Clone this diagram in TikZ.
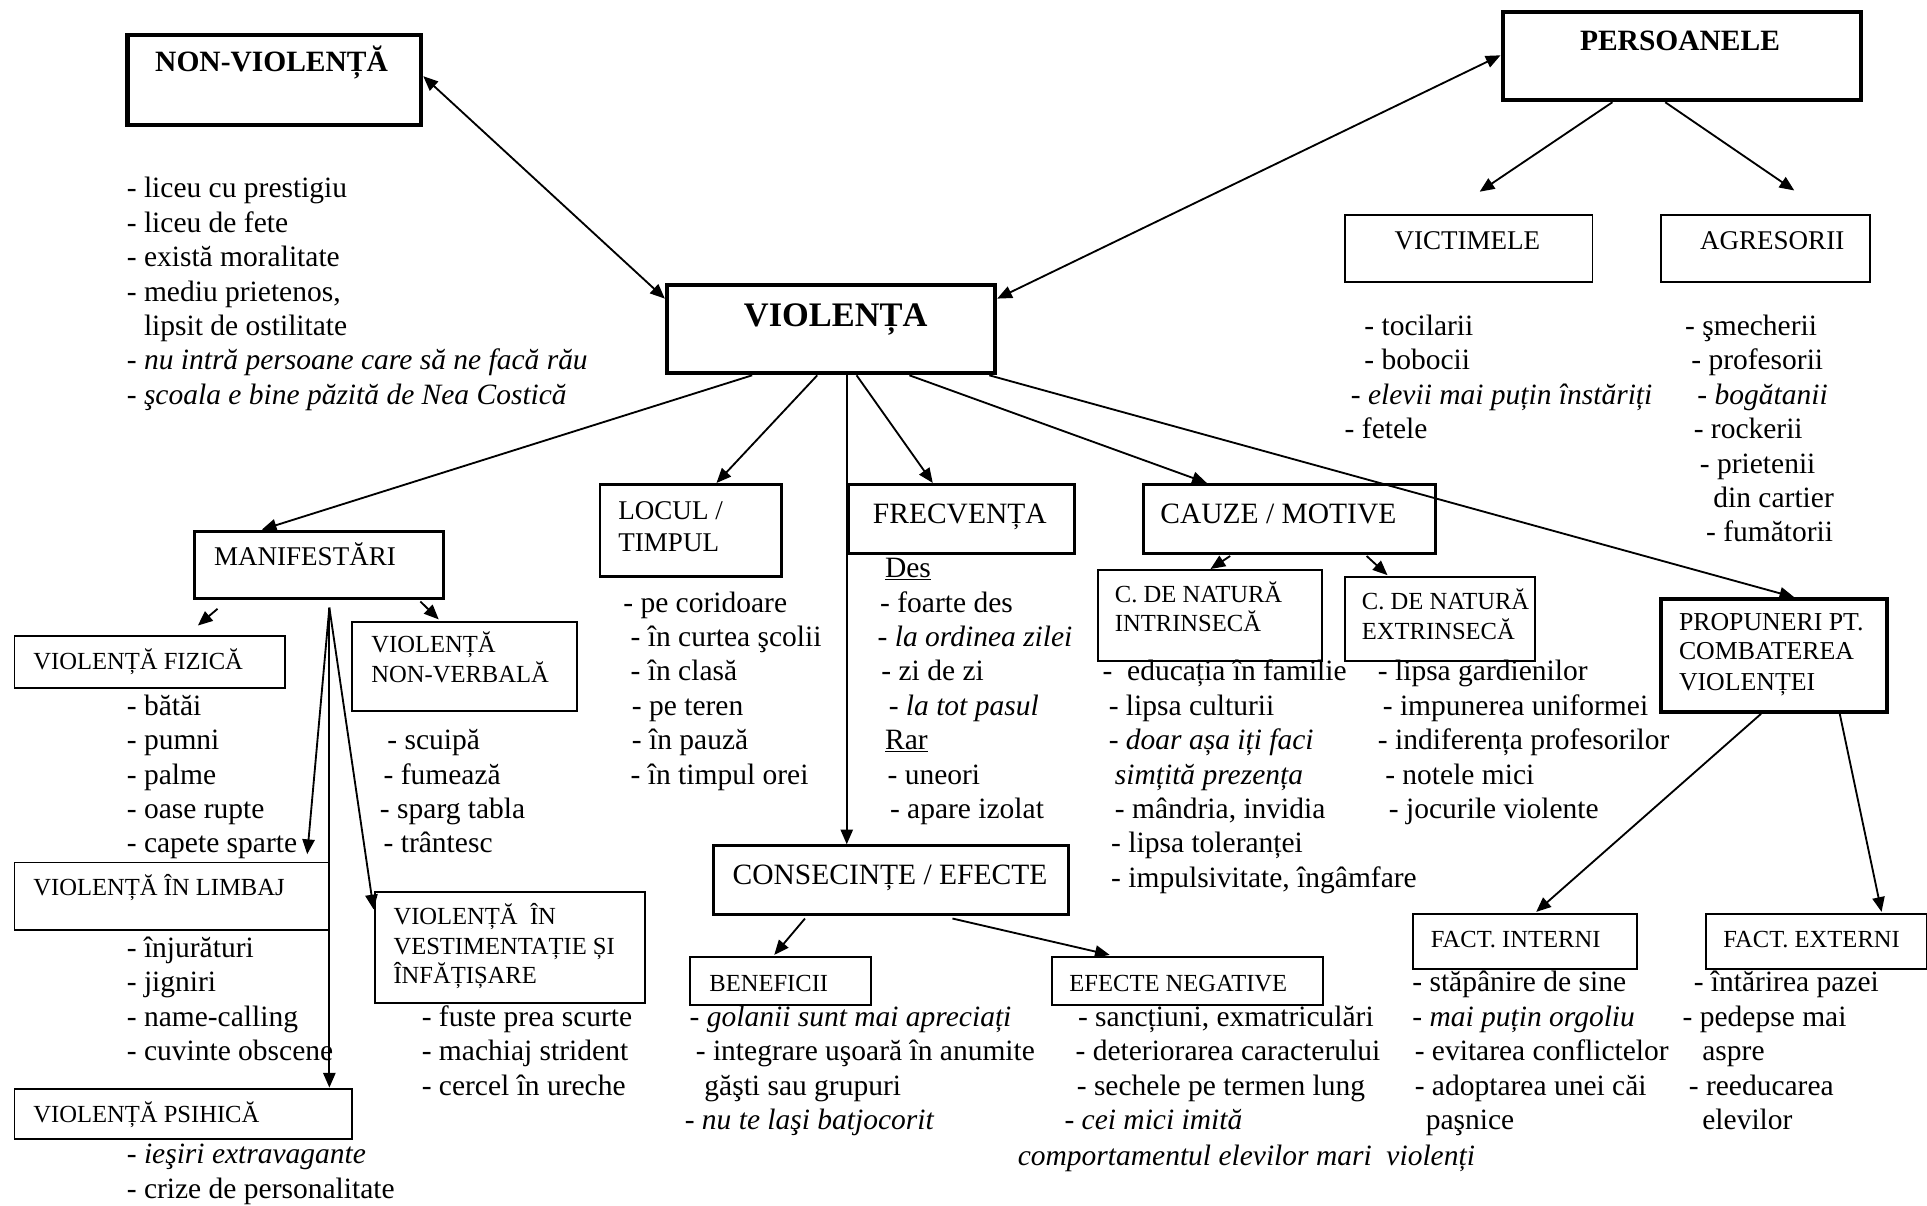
\documentclass[tikz,border=0pt]{standalone}
\usepackage{fontspec}
\setmainfont{Liberation Serif}
\usetikzlibrary{arrows.meta}
\begin{document}
\begin{tikzpicture}[x=1pt,y=-1pt,
  bx/.style={draw, anchor=north west, inner sep=0pt, line width=1.6pt},
  bxm/.style={bx, line width=2.4pt},
  bxk/.style={bx, line width=3.4pt},
  lbl/.style={anchor=base west, inner sep=0pt},
  clbl/.style={anchor=base, inner sep=0pt},
  f20/.style={font=\fontsize{20}{24}\selectfont},
  f21/.style={font=\fontsize{21}{25}\selectfont},
  f22/.style={font=\fontsize{22}{26}\selectfont},
  f24/.style={font=\fontsize{24}{28}\selectfont},
  fb24/.style={font=\fontsize{24}{28}\selectfont\bfseries},
  fb28/.style={font=\fontsize{28}{32}\selectfont\bfseries},
  item/.style={anchor=base west, inner sep=0pt, font=\fontsize{24}{28}\selectfont},
  arr/.style={line width=1.5pt, -{Triangle[length=12pt,width=10pt]}},
  darr/.style={line width=1.5pt, {Triangle[length=12pt,width=10pt]}-{Triangle[length=12pt,width=10pt]}}
]
\fill[white] (0,0) rectangle (1568,981);
\useasboundingbox (0,0) rectangle (1568,981);

% ---------- boxes ----------
\node[bxk, minimum width=239pt, minimum height=73pt] (nonv) at (102,27) {};
\node[bxk, minimum width=267pt, minimum height=72pt] (vio) at (541,230) {};
\node[bxk, line width=3.2pt, minimum width=292pt, minimum height=72pt] (pers) at (1221,8) {};
\node[bx, minimum width=201pt, minimum height=55pt] (vict) at (1094,174) {};
\node[bx, minimum width=170pt, minimum height=55pt] (agr) at (1351,174) {};
\node[bxm, minimum width=203pt, minimum height=55pt] (man) at (157,431) {};
\node[bxm, minimum width=148pt, minimum height=75pt] (loc) at (487,393) {};
\node[bxm, minimum width=184pt, minimum height=56pt] (frec) at (689,393) {};
\node[bxm, minimum width=238pt, minimum height=56pt] (cauze) at (929,393) {};
\node[bx, minimum width=182pt, minimum height=74pt] (intr) at (893,463) {};
\node[bx, minimum width=154pt, minimum height=68pt] (extr) at (1094,469) {};
\node[bxm, line width=2.8pt, minimum width=184pt, minimum height=92pt] (prop) at (1350,486) {};
\node[bx, minimum width=220pt, minimum height=42pt] (fiz) at (11,517) {};
\node[bx, minimum width=183pt, minimum height=73pt] (nverb) at (286,505) {};
\node[bx, minimum width=256pt, minimum height=55pt] (limb) at (11,701) {};
\node[bx, minimum width=220pt, minimum height=90pt] (vest) at (304,725) {};
\node[bx, minimum width=275pt, minimum height=41pt] (psih) at (11,885) {};
\node[bxm, minimum width=289pt, minimum height=56pt] (cons) at (579,687) {};
\node[bx, minimum width=147pt, minimum height=39pt] (ben) at (561,778) {};
\node[bx, minimum width=221pt, minimum height=39pt] (efneg) at (855,778) {};
\node[bx, minimum width=182pt, minimum height=45pt] (fint) at (1149,743) {};
\node[bx, minimum width=180pt, minimum height=45pt] (fext) at (1387,743) {};

% ---------- box labels ----------
\node[clbl, fb24] (nonvT) at (221,58) {NON-VIOLENȚĂ};
\node[clbl, fb28] (vioT) at (680,266) {VIOLENȚA};
\node[clbl, fb24] (persT) at (1367,41) {PERSOANELE};
\node[clbl, f22] (victT) at (1194,203) {VICTIMELE};
\node[clbl, f22] (agrT) at (1442,203) {AGRESORII};
\node[lbl, f22] (manT) at (174,460) {MANIFESTĂRI};
\node[lbl, f22] (locT1) at (503,423) {LOCUL /};
\node[lbl, f22] (locT2) at (503,449) {TIMPUL};
\node[clbl, f24] (frecT) at (781,426) {FRECVENȚA};
\node[lbl, f24] (cauzeT) at (944,426) {CAUZE / MOTIVE};
\node[lbl, f20] (intrT1) at (907,490) {C. DE NATURĂ};
\node[lbl, f20] (intrT2) at (907,514) {INTRINSECĂ};
\node[lbl, f20] (extrT1) at (1108,496) {C. DE NATURĂ};
\node[lbl, f20] (extrT2) at (1108,520) {EXTRINSECĂ};
\node[lbl, f21] (propT1) at (1366,513) {PROPUNERI PT.};
\node[lbl, f21] (propT2) at (1366,537) {COMBATEREA};
\node[lbl, f21] (propT3) at (1366,562) {VIOLENȚEI};
\node[lbl, f20] (fizT) at (27,545) {VIOLENȚĂ FIZICĂ};
\node[lbl, f20] (nverbT1) at (302,531) {VIOLENȚĂ};
\node[lbl, f20] (nverbT2) at (302,555) {NON-VERBALĂ};
\node[lbl, f20] (limbT) at (27,729) {VIOLENȚĂ ÎN LIMBAJ};
\node[lbl, f20] (vestT1) at (320,752) {VIOLENȚĂ~~ÎN};
\node[lbl, f20] (vestT2) at (320,777) {VESTIMENTAȚIE ȘI};
\node[lbl, f20] (vestT3) at (320,800) {ÎNFĂȚIȘARE};
\node[lbl, f20] (psihT) at (27,913) {VIOLENȚĂ PSIHICĂ};
\node[lbl, f24] (consT) at (596,720) {CONSECINȚE / EFECTE};
\node[lbl, f20] (benT) at (577,807) {BENEFICII};
\node[lbl, f20] (efnegT) at (870,807) {EFECTE NEGATIVE};
\node[lbl, f20] (fintT) at (1164,771) {FACT. INTERNI};
\node[lbl, f20] (fextT) at (1402,771) {FACT. EXTERNI};

% ---------- lists ----------
\foreach \x/\y/\txt [count=\i] in {
  103/154/{- liceu cu prestigiu},
  103/182/{- liceu de fete},
  103/210/{- există moralitate},
  103/238/{- mediu prietenos,},
  117/266/{lipsit de ostilitate},
  103/294/{- \textit{nu intră persoane care să ne facă rău}},
  103/322/{- \textit{şcoala e bine păzită de Nea Costică}}}
  {\node[item] (nvl\i) at (\x,\y+7) {\txt};}

\foreach \x/\y/\txt [count=\i] in {
  1110/266/{- tocilarii},
  1110/294/{- bobocii},
  1099/322/{- \textit{elevii mai puțin înstăriți}},
  1094/350/{- fetele}}
  {\node[item] (vil\i) at (\x,\y+7) {\txt};}

\foreach \x/\y/\txt [count=\i] in {
  1371/266/{- şmecherii},
  1376/294/{- profesorii},
  1381/322/{- \textit{bogătanii}},
  1378/350/{- rockerii},
  1383/378/{- prietenii},
  1394/406/{din cartier},
  1388/434/{- fumătorii}}
  {\node[item] (agl\i) at (\x,\y+7) {\txt};}

\foreach \x/\y/\txt [count=\i] in {
  507/491/{- pe coridoare},
  513/519/{- în curtea şcolii},
  513/547/{- în clasă},
  514/575/{- pe teren},
  514/603/{- în pauză},
  513/631/{- în timpul orei}}
  {\node[item] (lol\i) at (\x,\y+7) {\txt};}

\foreach \x/\y/\txt [count=\i] in {
  720/463/{\underline{Des}},
  716/491/{- foarte des},
  714/519/{- \textit{la ordinea zilei}},
  717/547/{- zi de zi},
  723/575/{- \textit{la tot pasul}},
  720/603/{\underline{Rar}},
  722/631/{- uneori},
  724/659/{- apare izolat}}
  {\node[item] (frl\i) at (\x,\y+7) {\txt};}

\foreach \x/\y/\txt [count=\i] in {
  897/547/{-~~educația în familie},
  902/575/{- lipsa culturii},
  902/603/{- \textit{doar așa iți faci}},
  907/631/{\textit{simțită prezența}},
  907/659/{- mândria, invidia},
  904/687/{- lipsa toleranței},
  904/715/{- impulsivitate, îngâmfare}}
  {\node[item] (inl\i) at (\x,\y+7) {\txt};}

\foreach \x/\y/\txt [count=\i] in {
  1121/547/{- lipsa gardienilor},
  1125/575/{- impunerea uniformei},
  1121/603/{- indiferența profesorilor},
  1127/631/{- notele mici},
  1130/659/{- jocurile violente}}
  {\node[item] (exl\i) at (\x,\y+7) {\txt};}

\foreach \x/\y/\txt [count=\i] in {
  103/575/{- bătăi},
  103/603/{- pumni},
  103/631/{- palme},
  103/659/{- oase rupte},
  103/687/{- capete sparte}}
  {\node[item] (fzl\i) at (\x,\y+7) {\txt};}

\foreach \x/\y/\txt [count=\i] in {
  315/603/{- scuipă},
  312/631/{- fumează},
  309/659/{- sparg tabla},
  312/687/{- trântesc}}
  {\node[item] (nvbl\i) at (\x,\y+7) {\txt};}

\foreach \x/\y/\txt [count=\i] in {
  103/772/{- înjurături},
  103/800/{- jigniri},
  103/828/{- name-calling},
  103/856/{- cuvinte obscene}}
  {\node[item] (lml\i) at (\x,\y+7) {\txt};}

\foreach \x/\y/\txt [count=\i] in {
  343/828/{- fuste prea scurte},
  343/856/{- machiaj strident},
  343/884/{- cercel în ureche}}
  {\node[item] (vsl\i) at (\x,\y+7) {\txt};}

\foreach \x/\y/\txt [count=\i] in {
  103/940/{- \textit{ieşiri extravagante}},
  103/968/{- crize de personalitate}}
  {\node[item] (psl\i) at (\x,\y+7) {\txt};}

\foreach \x/\y/\txt [count=\i] in {
  561/828/{- \textit{golanii sunt mai apreciați}},
  566/856/{- integrare uşoară în anumite},
  573/884/{găşti sau grupuri},
  557/912/{- \textit{nu te laşi batjocorit}}}
  {\node[item] (bnl\i) at (\x,\y+7) {\txt};}

\foreach \x/\y/\txt [count=\i] in {
  877/828/{- sancțiuni, exmatriculări},
  875/856/{- deteriorarea caracterului},
  876/884/{- sechele pe termen lung},
  866/912/{- \textit{cei mici imită}},
  828/941/{\textit{comportamentul elevilor mari~~violenți}}}
  {\node[item] (enl\i) at (\x,\y+7) {\txt};}

\foreach \x/\y/\txt [count=\i] in {
  1149/800/{- stăpânire de sine},
  1149/828/{- \textit{mai puțin orgoliu}},
  1151/856/{- evitarea conflictelor},
  1151/884/{- adoptarea unei căi},
  1160/912/{paşnice}}
  {\node[item] (fil\i) at (\x,\y+7) {\txt};}

\foreach \x/\y/\txt [count=\i] in {
  1378/800/{- întărirea pazei},
  1369/828/{- pedepse mai},
  1385/856/{aspre},
  1374/884/{- reeducarea},
  1385/912/{elevilor}}
  {\node[item] (fel\i) at (\x,\y+7) {\txt};}

% ---------- connectors ----------
\draw[darr] ([shift={(0,35)}]nonv.north east) -- ([shift={(0,13)}]vio.north west);
\draw[darr] ([shift={(0,13)}]vio.north east) -- ([shift={(0,37)}]pers.north west);
\draw[arr] ([shift={(91,0)}]pers.south west) -- ([shift={(110,-18)}]vict.north west);
\draw[arr] ([shift={(134,0)}]pers.south west) -- ([shift={(109,-19)}]agr.north west);

\draw[arr] ([shift={(71,0)}]vio.south west) -- ([shift={(56,0)}]man.north west);
\draw[arr] ([shift={(124,0)}]vio.south west) -- ([shift={(96,0)}]loc.north west);
\draw[arr] ([shift={(148,0)}]vio.south west) -- ([shift={(110,0)}]cons.north west);
\draw[arr] ([shift={(156,0)}]vio.south west) -- ([shift={(70,0)}]frec.north west);
\draw[arr] ([shift={(199,0)}]vio.south west) -- ([shift={(53,0)}]cauze.north west);
\draw[arr] ([shift={(264,0)}]vio.south west) -- ([shift={(110,0)}]prop.north west);

\draw[arr] ([shift={(72,1)}]cauze.south west) -- ([shift={(92,0)}]intr.north west);
\draw[arr] ([shift={(183,1)}]cauze.south west) -- ([shift={(35,-1)}]extr.north west);

\draw[arr] ([shift={(20,7)}]man.south west) -- ([shift={(150,-8)}]fiz.north west);
\draw[arr] ([shift={(185,1)}]man.south west) -- ([shift={(71,-1)}]nverb.north west);
\coordinate (fan) at ([shift={(111,6)}]man.south west);
\draw[arr] (fan) -- ([shift={(239,-6)}]limb.north west);
\draw[arr] (fan) -- ([shift={(257,0)}]psih.north west);
\draw[arr] (fan) -- ([shift={(0,15)}]vest.north west);

\draw[arr] ([shift={(83,0)}]prop.south west) -- ([shift={(101,-1)}]fint.north west);
\draw[arr] ([shift={(147,0)}]prop.south west) -- ([shift={(144,-1)}]fext.north west);

\draw[arr] ([shift={(76,2)}]cons.south west) -- ([shift={(69,-1)}]ben.north west);
\draw[arr] ([shift={(196,2)}]cons.south west) -- ([shift={(48,-1)}]efneg.north west);
\end{tikzpicture}
\end{document}
